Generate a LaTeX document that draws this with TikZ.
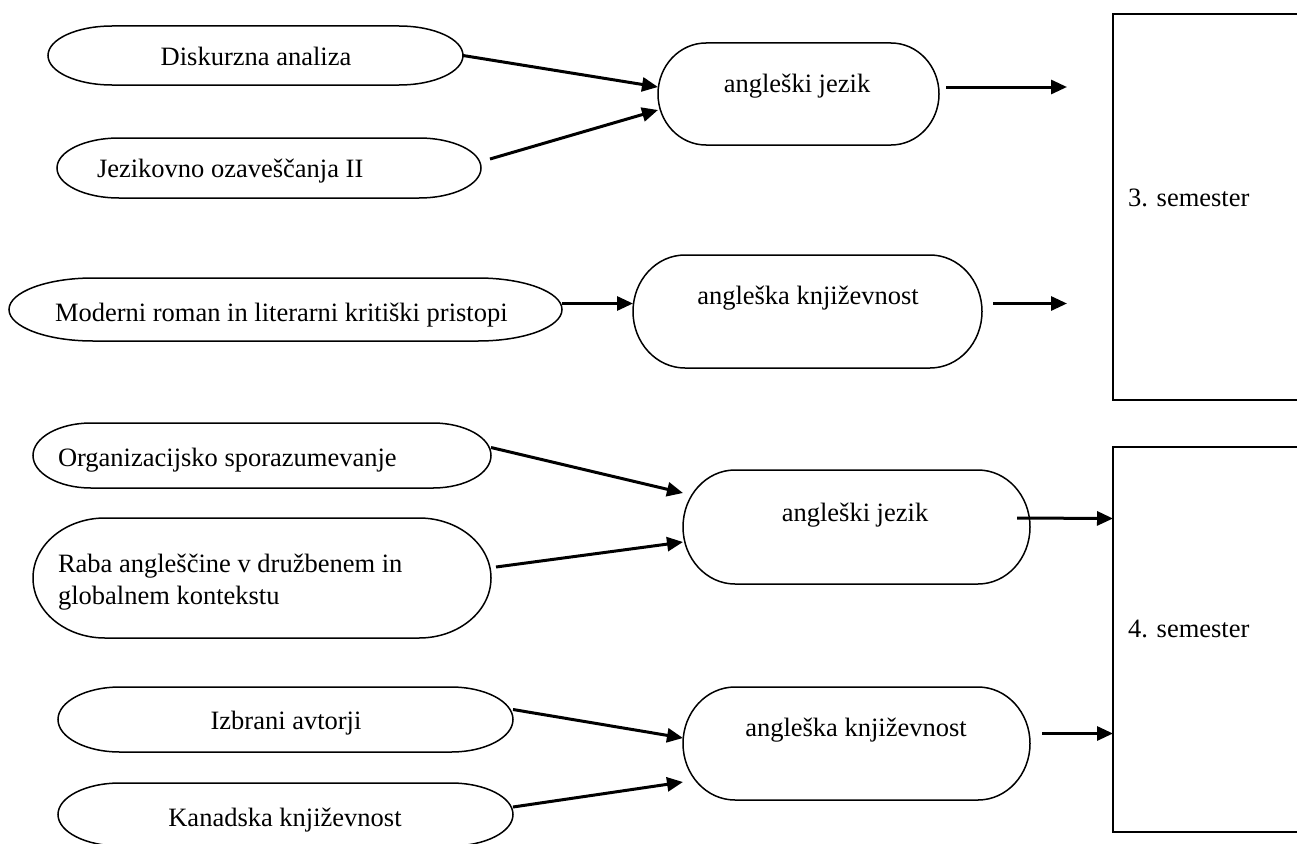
\documentclass[tikz,border=0pt]{standalone}
\usepackage{fontspec}
\setmainfont{Liberation Serif}
\usetikzlibrary{arrows.meta,fit}
\tikzset{
  shp/.style={draw=black,line width=1.5pt},
  conn/.style={line width=3pt,-{Triangle[length=16pt,width=14pt]}},
  lbl/.style={inner sep=0pt,outer sep=0pt,font=\fontsize{26.5}{32}\selectfont},
  holder/.style={inner sep=0pt,outer sep=0pt}
}
\newcommand\stad[6]{%
  \node[holder,fit={(#2,#3)(#4,#5)}] (#1) {};
  \pgfmathsetmacro\hh{(#5-#3)/2}%
  \draw[shp] ([xshift=#6pt]#1.north west) -- ([xshift=-#6pt]#1.north east)
    arc[start angle=90,end angle=-90,x radius=#6pt,y radius=\hh pt]
    -- ([xshift=#6pt]#1.south west)
    arc[start angle=270,end angle=90,x radius=#6pt,y radius=\hh pt] -- cycle;
}
\begin{document}
\begin{tikzpicture}[x=1pt,y=-1pt]
\useasboundingbox (0,0) rectangle (1297,843);
% shapes
\stad{dis}{48}{26}{463}{85}{64}
\stad{jez}{57}{138}{481}{198}{62}
\stad{jA}{658}{43}{939}{145}{48}
\stad{mod}{9}{278}{562}{341}{84}
\stad{kA}{633}{255}{982}{368}{52}
\stad{org}{33}{423}{491}{488}{58}
\stad{raba}{33}{518}{491}{638}{72}
\stad{jB}{683}{470}{1030}{584}{52}
\stad{izb}{58}{687}{513}{752}{62}
\stad{kan}{58}{783}{513}{846}{62}
\stad{kB}{683}{687}{1030}{800}{52}
% semester boxes
\node[holder,fit={(1113,14)(1305,400)}] (s3) {};
\draw[shp] (s3.north east) -- (s3.north west) -- (s3.south west) -- (s3.south east);
\node[holder,fit={(1113,447)(1305,832)}] (s4) {};
\draw[shp] (s4.north east) -- (s4.north west) -- (s4.south west) -- (s4.south east);
% texts
\node[lbl,anchor=base] (dis-t) at (256,65) {Diskurzna analiza};
\node[lbl,anchor=base west] (jez-t) at (97,177) {Jezikovno ozaveščanja II};
\node[lbl,anchor=base] (jA-t) at (797,92) {angleški jezik};
\node[lbl,anchor=base west] (mod-t) at (55,321) {Moderni roman in literarni kritiški pristopi};
\node[lbl,anchor=base] (kA-t) at (808,304) {angleška književnost};
\node[lbl,anchor=base west] (org-t) at (58,466) {Organizacijsko sporazumevanje};
\node[lbl,anchor=north west,align=left] (raba-t) at (58,554) {Raba angleščine v družbenem in\\globalnem kontekstu};
\node[lbl,anchor=base] (jB-t) at (855,521) {angleški jezik};
\node[lbl,anchor=base] (kB-t) at (856,736) {angleška književnost};
\node[lbl,anchor=base] (izb-t) at (286,729) {Izbrani avtorji};
\node[lbl,anchor=base] (kan-t) at (285,826) {Kanadska književnost};
\node[lbl,anchor=base west] (s3-t) at (1128,206) {3. semester};
\node[lbl,anchor=base west] (s4-t) at (1128,637) {4. semester};
% free ends
\coordinate (eA) at (1067,87);
\coordinate (eB) at (1067,303.5);
% connectors
\draw[conn] (dis.east) -- ([yshift=7pt]jA.west);
\draw[conn] ([shift={(9pt,9pt)}]jez.east) -- ([yshift=-16pt]jA.west);
\draw[conn] ([shift={(7pt,7pt)}]jA.east) -- (eA);
\draw[conn] ([yshift=6pt]mod.east) -- ([yshift=8pt]kA.west);
\draw[conn] ([shift={(11pt,8pt)}]kA.east) -- (eB);
\draw[conn] ([yshift=8pt]org.east) -- ([yshift=34pt]jB.west);
\draw[conn] ([shift={(5pt,11pt)}]raba.east) -- ([yshift=-15pt]jB.west);
\draw[conn] ([shift={(-13pt,9pt)}]jB.east) -- ([yshift=121pt]s4.west);
\draw[conn] ([yshift=10pt]izb.east) -- ([yshift=5.5pt]kB.west);
\draw[conn] ([yshift=7.5pt]kan.east) -- ([yshift=-38.5pt]kB.west);
\draw[conn] ([shift={(12pt,10pt)}]kB.east) -- ([yshift=-94pt]s4.west);
\end{tikzpicture}
\end{document}
